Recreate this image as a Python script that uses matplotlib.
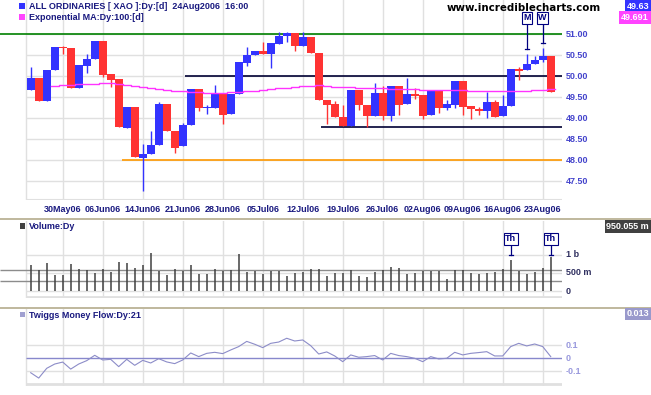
import numpy as np
import matplotlib
matplotlib.use('Agg')
import matplotlib.pyplot as plt
from matplotlib.patches import Rectangle
from matplotlib.lines import Line2D

# ---- data (XAO daily, 24May06 - 24Aug06) ----
opens = [49.67, 49.97, 49.41, 50.15, 50.70, 50.67, 49.73, 50.25, 50.41, 50.83,
         50.05, 49.93, 48.78, 49.27, 48.06, 48.15, 48.37, 49.34, 48.70, 48.33,
         48.84, 49.70, 49.25, 49.25, 49.58, 49.10, 49.58, 50.32, 50.51, 50.60,
         50.53, 50.78, 50.96, 51.02, 50.73, 50.94, 50.56, 49.44, 49.34, 49.04,
         48.82, 49.67, 49.32, 49.06, 49.60, 49.06, 49.77, 49.34, 49.58, 49.55,
         49.08, 49.67, 49.25, 49.32, 49.89, 49.29, 49.22, 49.18, 49.38, 49.06,
         49.29, 50.17, 50.15, 50.29, 50.38, 50.48]
highs = [50.21, 49.97, 50.15, 50.70, 50.72, 50.67, 50.27, 50.53, 50.83, 50.83,
         50.05, 49.93, 49.27, 49.27, 48.39, 48.70, 49.39, 49.34, 48.70, 48.90,
         49.70, 49.70, 49.32, 49.79, 49.58, 49.58, 50.34, 50.70, 50.60, 50.81,
         50.79, 51.06, 51.06, 51.02, 51.06, 50.94, 50.56, 49.44, 49.41, 49.31,
         49.67, 49.67, 49.32, 49.84, 49.77, 49.77, 49.77, 49.97, 49.73, 49.55,
         49.67, 49.67, 49.43, 49.89, 49.89, 49.29, 49.26, 49.63, 49.44, 49.55,
         50.17, 50.23, 50.53, 50.48, 50.68, 50.48]
lows = [49.67, 49.41, 49.41, 50.15, 50.53, 49.73, 49.73, 50.09, 50.41, 49.99,
        49.75, 48.80, 48.78, 48.09, 47.28, 48.15, 48.37, 48.70, 48.17, 48.33,
        48.84, 49.17, 49.10, 49.25, 48.87, 49.10, 49.58, 50.25, 50.51, 50.53,
        50.19, 50.78, 50.82, 50.61, 50.73, 50.56, 49.44, 48.87, 49.04, 48.82,
        48.82, 49.20, 48.80, 49.06, 48.96, 48.93, 49.09, 49.34, 49.46, 48.98,
        49.08, 49.12, 49.20, 49.25, 49.09, 48.98, 49.08, 49.01, 49.04, 49.06,
        49.29, 49.91, 50.15, 50.29, 50.35, 49.63]
closes = [49.97, 49.41, 50.15, 50.70, 50.67, 49.73, 50.27, 50.41, 50.83, 50.03,
          49.91, 48.80, 49.27, 48.09, 48.15, 48.37, 49.34, 48.70, 48.30, 48.84,
          49.70, 49.25, 49.27, 49.58, 49.08, 49.58, 50.34, 50.51, 50.60, 50.53,
          50.79, 50.96, 51.02, 50.71, 50.94, 50.56, 49.44, 49.32, 49.04, 48.82,
          49.67, 49.32, 49.06, 49.60, 49.06, 49.77, 49.32, 49.58, 49.54, 49.06,
          49.67, 49.25, 49.34, 49.89, 49.28, 49.21, 49.18, 49.38, 49.04, 49.29,
          50.17, 50.13, 50.29, 50.40, 50.48, 49.63]

# 100 day EMA, drawn from day 3 onwards
ema_start = 3
ema = [49.76, 49.785, 49.80, 49.81, 49.81, 49.81, 49.83, 49.83, 49.81, 49.785,
       49.76, 49.74, 49.72, 49.70, 49.68, 49.65, 49.64, 49.63, 49.62, 49.61,
       49.61, 49.61, 49.62, 49.63, 49.64, 49.66, 49.67, 49.69, 49.71, 49.73,
       49.75, 49.77, 49.78, 49.79, 49.78, 49.75, 49.74, 49.74, 49.73, 49.72,
       49.72, 49.71, 49.70, 49.70, 49.69, 49.69, 49.68, 49.68, 49.68, 49.67,
       49.67, 49.67, 49.66, 49.66, 49.66, 49.65, 49.64, 49.64, 49.65, 49.66,
       49.67, 49.68, 49.69]

# volume in millions
volume = [714, 580, 768, 446, 446, 741, 598, 580, 500, 607,
          527, 795, 768, 625, 714, 1063, 554, 446, 607, 554,
          714, 473, 473, 607, 554, 580, 1036, 527, 554, 473,
          554, 554, 420, 500, 527, 607, 607, 420, 509, 491,
          580, 420, 393, 527, 580, 661, 625, 473, 500, 554,
          554, 554, 339, 580, 580, 500, 473, 500, 527, 607,
          848, 554, 473, 527, 643, 950]

tmf = [-0.111, -0.152, -0.077, -0.044, -0.029, -0.083, -0.044, -0.018, 0.023, -0.013,
       -0.008, -0.064, -0.008, -0.054, -0.016, -0.036, -0.003, -0.028, -0.041, -0.013,
       0.041, 0.013, 0.038, 0.046, 0.036, 0.064, 0.090, 0.130, 0.108, 0.082,
       0.115, 0.125, 0.154, 0.133, 0.141, 0.097, 0.033, 0.049, 0.018, -0.026,
       0.026, 0.008, 0.013, 0.021, -0.013, 0.038, 0.021, 0.013, 0.000, -0.026,
       0.013, -0.005, 0.000, 0.046, 0.026, 0.038, 0.044, 0.051, 0.018, 0.018,
       0.090, 0.115, 0.095, 0.110, 0.090, 0.013]

date_idx = [4, 9, 14, 19, 24, 29, 34, 39, 44, 49, 54, 59, 64]
date_labels = ['30May06', '06Jun06', '14Jun06', '21Jun06', '28Jun06', '05Jul06', '12Jul06',
               '19Jul06', '26Jul06', '02Aug06', '09Aug06', '16Aug06', '23Aug06']
price_ticks = [51.0, 50.5, 50.0, 49.5, 49.0, 48.5, 48.0, 47.5]

# drawn lines: level and the day they start from
line_levels = [51.0, 50.0, 48.8, 48.0]
line_starts = [-3.84, 19.3, 36.3, 11.45]
line_colors = ['#008000', '#000033', '#000033', '#ff9900']

mw_days = [62, 64]
mw_text = ['M', 'W']
th_days = [60, 65]

W, H = 651, 395
XL = (-3.84, 66.41)
LEFT_B = -0.62
GRID = '#e0e0e0'
NAVY = '#1a1a80'
FONT = 'Liberation Sans'

fig = plt.figure(figsize=(W / 100, H / 100), dpi=100)
fig.patch.set_facecolor('white')


def px_axes(left, top, right, bottom):
    a = fig.add_axes([left / W, 1 - bottom / H, (right - left) / W, (bottom - top) / H])
    a.set_xlim(*XL)
    a.set_axis_off()
    return a


def ftext(x, y, s, **kw):
    kw.setdefault('family', FONT)
    kw.setdefault('fontsize', 6.5)
    kw.setdefault('fontweight', 'bold')
    return fig.text(x / W, 1 - y / H, s, **kw)


def box(x, y, w, h, color):
    fig.add_artist(Rectangle((x / W, 1 - (y + h) / H), w / W, h / H,
                             transform=fig.transFigure, fc=color, ec='none'))


def vgrid(a):
    for d in date_idx + [LEFT_B]:
        a.axvline(d, color=GRID, lw=1.0, zorder=0)


days = np.arange(len(closes))
o = np.array(opens); c = np.array(closes)

# ---------------- price panel ----------------
ax = px_axes(0, 0, 562, 200)
ax.set_ylim(47.055, 51.817)
vgrid(ax)
for lv in price_ticks:
    ax.hlines(lv, LEFT_B, XL[1], color=GRID, lw=1.0, zorder=0)
ax.hlines(47.062, LEFT_B, XL[1], color=GRID, lw=1.5, zorder=0)

cols = np.where(c >= o, '#3333ff', '#ff3333')
ax.vlines(days, lows, highs, colors=cols, lw=1.0, zorder=3)
body = np.where(np.abs(c - o) < 0.025, 0.025, c - o)
ax.bar(days, body, bottom=o, width=1.0, color=cols, linewidth=0, zorder=3)

ema_x = np.arange(ema_start, ema_start + len(ema)) - 0.5
ax.step(np.append(ema_x, ema_x[-1] + 1), ema + [ema[-1]], where='post',
        color='#ff33ff', lw=1.0, zorder=4)

for lv, st, col in zip(line_levels, line_starts, line_colors):
    ax.hlines(lv, st, XL[1], color=col, lw=1.2, zorder=2)

for lv in price_ticks:
    ax.text(1.007, lv, f'{lv:.2f}', transform=ax.get_yaxis_transform(),
            ha='left', va='center', color='#4444cc', family=FONT, fontsize=6.5,
            fontweight='bold', clip_on=False)

for d, lab in zip(date_idx, date_labels):
    ax.text(d, -0.05, lab, transform=ax.get_xaxis_transform(), ha='center', va='center',
            color=NAVY, family=FONT, fontsize=6.5, fontweight='bold', clip_on=False)

for d, t in zip(mw_days, mw_text):
    tip = highs[d] + 0.11
    ax.plot([d, d], [tip, 51.3], color='#000080', lw=0.9, zorder=5, clip_on=False)
    ax.plot([d - 0.25, d + 0.25], [tip, tip], color='#000080', lw=0.9, zorder=5)
    ax.text(d, 51.39, t, ha='center', va='center', color='#000080', family=FONT,
            fontsize=6.5, fontweight='bold', zorder=6,
            bbox=dict(boxstyle='square,pad=0.15', fc='white', ec='#000080', lw=0.8))

# legend / header
box(19, 3, 6, 6, '#3333ff')
ftext(29, 6.5, 'ALL ORDINARIES [ XAO ]:Dy:[d]  24Aug2006  16:00', color=NAVY, va='center')
box(19, 14, 6, 6, '#ff44ff')
ftext(29, 17.5, 'Exponential MA:Dy:100:[d]', color=NAVY, va='center')
ftext(524, 8, 'www.incrediblecharts.com', family='DejaVu Sans', fontsize=7.4,
      color='black', ha='center', va='center')
ftext(649, 6.5, f'{closes[-1]:.2f}', color='white', ha='right', va='center',
      bbox=dict(boxstyle='square,pad=0.2', fc='#3333ff', ec='none'))
ftext(649, 17.5, f'{ema[-1] + 0.001:.3f}', color='white', ha='right', va='center',
      bbox=dict(boxstyle='square,pad=0.2', fc='#ff44ff', ec='none'))

# separators
for y in (219.5, 308.0):
    fig.add_artist(Line2D([0, 1], [1 - y / H] * 2, transform=fig.transFigure,
                          color='#b4ac8c', lw=1.2))

# ---------------- volume panel ----------------
av = px_axes(0, 221, 562, 298)
av.set_ylim(-191, 1935)
vgrid(av)
for lv in (0, 500, 1000):
    av.hlines(lv, LEFT_B, XL[1], color=GRID, lw=1.0, zorder=0)
av.hlines(-170, LEFT_B, XL[1], color=GRID, lw=2.0, zorder=0)
for lv in (591, 292):
    av.hlines(lv, XL[0], XL[1], color='#8c8c8c', lw=1.0, zorder=1)
av.vlines(days, 0, volume, color='#404040', lw=1.1, zorder=3)
for lv, lab in zip((1000, 500, 0), ('1 b', '500 m', '0')):
    av.text(1.007, lv, lab, transform=av.get_yaxis_transform(), ha='left', va='center',
            color='#303060', family=FONT, fontsize=6.5, fontweight='bold', clip_on=False)
for d in th_days:
    av.plot([d, d], [1000, 1380], color='#000080', lw=0.9, zorder=5)
    av.plot([d - 0.25, d + 0.25], [1000, 1000], color='#000080', lw=0.9, zorder=5)
    av.text(d, 1444, 'Th', ha='center', va='center', color='#000080', family=FONT,
            fontsize=6.5, fontweight='bold', zorder=6,
            bbox=dict(boxstyle='square,pad=0.15', fc='white', ec='#000080', lw=0.8))
box(20, 223, 5, 6, '#404040')
ftext(29, 226, 'Volume:Dy', color=NAVY, va='center')
ftext(649, 226.5, f'{volume[-1]}.055 m', color='white', ha='right', va='center',
      bbox=dict(boxstyle='square,pad=0.2', fc='#404040', ec='none'))

# ---------------- twiggs money flow panel ----------------
at = px_axes(0, 309, 562, 386)
at.set_ylim(-0.213, 0.379)
vgrid(at)
for lv in (0.1, -0.1):
    at.hlines(lv, LEFT_B, XL[1], color=GRID, lw=1.0, zorder=0)
at.hlines(-0.2, LEFT_B, XL[1], color=GRID, lw=2.0, zorder=0)
at.hlines(0, LEFT_B, XL[1], color='#8888cc', lw=1.0, zorder=1)
at.plot(days, tmf, color='#8c8cc8', lw=0.8, zorder=3)
for lv, lab in zip((0.1, 0, -0.1), ('0.1', '0', '-0.1')):
    at.text(1.007, lv, lab, transform=at.get_yaxis_transform(), ha='left', va='center',
            color='#9999dd', family=FONT, fontsize=6.5, fontweight='bold', clip_on=False)
box(20, 312, 5, 5, '#a0a0d0')
ftext(29, 315, 'Twiggs Money Flow:Dy:21', color=NAVY, va='center')
ftext(649, 314, f'{tmf[-1]:.3f}', color='white', ha='right', va='center',
      bbox=dict(boxstyle='square,pad=0.2', fc='#9999cc', ec='none'))

fig.savefig('out.png', dpi=100)
